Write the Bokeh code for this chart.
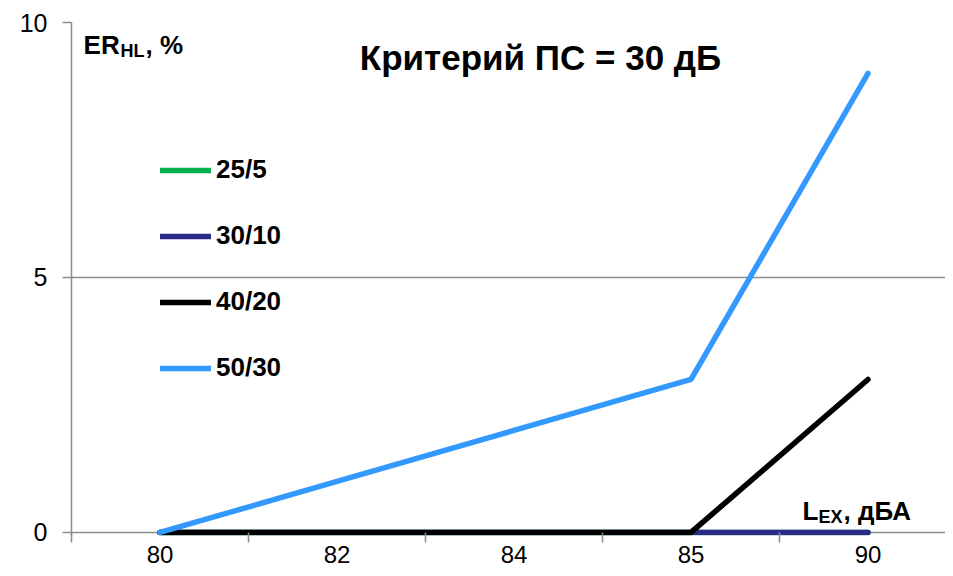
from bokeh.plotting import figure
from bokeh.models import FixedTicker, Legend, LegendItem, Range1d
from bokeh.core.properties import value
from bokeh.embed import file_html
from bokeh.resources import INLINE

# ---- data ----
categories = ["80", "82", "84", "85", "90"]
series_names = ["25/5", "30/10", "40/20", "50/30"]
s25_5 = [0, 0, 0, 0, 0]
s30_10 = [0, 0, 0, 0, 0]
s40_20 = [0, 0, 0, 0, 3]
s50_30 = [0, 1, 2, 3, 9]
y_ticks = [0, 5, 10]
series_colors = ["#00B050", "#2B2B88", "#000000", "#3399FF"]

title_text = "Критерий ПС = 30 дБ"
FONT = "Liberation Sans"
GRAY = "#8c8c8c"

xs = list(range(len(categories)))

p = figure(width=945, height=568, output_backend="svg", toolbar_location=None,
           title=None,
           x_range=Range1d(-0.5, 4.438), y_range=Range1d(-0.06, 10),
           min_border_left=71, min_border_right=0, min_border_top=22,
           min_border_bottom=33)
p.outline_line_color = None
p.background_fill_color = "white"
p.border_fill_color = "white"

# grid (the line at 0 doubles as the x axis line, drawn beneath the data lines)
p.xgrid.visible = False
p.ygrid.ticker = FixedTicker(ticks=y_ticks)
p.ygrid.grid_line_color = GRAY
p.ygrid.grid_line_width = 1.5

# x axis (category-like)
p.xaxis.ticker = FixedTicker(ticks=xs, minor_ticks=[i - 0.5 for i in range(len(xs) + 1)])
p.xaxis.major_label_overrides = {i: c for i, c in zip(xs, categories)}
p.xaxis.major_tick_out = 0
p.xaxis.major_tick_in = 0
p.xaxis.major_tick_line_color = None
p.xaxis.minor_tick_out = 7
p.xaxis.minor_tick_in = 3
p.xaxis.minor_tick_line_color = GRAY
p.xaxis.minor_tick_line_width = 1.5
p.xaxis.axis_line_color = None
p.xaxis.major_label_standoff = 3
p.xaxis.major_label_text_font = FONT
p.xaxis.major_label_text_font_size = "24px"
p.xaxis.major_label_text_color = "black"

# y axis
p.yaxis.ticker = FixedTicker(ticks=y_ticks)
p.yaxis.major_tick_out = 9
p.yaxis.major_tick_in = 0
p.yaxis.major_tick_line_color = GRAY
p.yaxis.major_tick_line_width = 1.5
p.yaxis.minor_tick_line_color = None
p.yaxis.axis_line_color = GRAY
p.yaxis.axis_line_width = 1.5
p.yaxis.major_label_standoff = 15
p.yaxis.major_label_text_font = FONT
p.yaxis.major_label_text_font_size = "25px"
p.yaxis.major_label_text_color = "black"

# lines
renderers = []
for name, ys, col in zip(series_names, [s25_5, s30_10, s40_20, s50_30], series_colors):
    r = p.line(xs, ys, line_color=col, line_width=5.5, line_cap="round", line_join="round")
    renderers.append(r)

legend = Legend(items=[LegendItem(label=n, renderers=[r]) for n, r in zip(series_names, renderers)],
                location=(89, 152), orientation="vertical",
                glyph_width=51, glyph_height=30, label_height=30, spacing=35,
                padding=0, margin=0, label_standoff=5,
                border_line_color=None, background_fill_alpha=0,
                label_text_font=FONT, label_text_font_style="bold",
                label_text_font_size="26px", label_text_color="black")
p.add_layout(legend)

# title inside plot
p.text(x=[2.15], y=[9.32], text=[title_text], text_font=value(FONT),
       text_font_style="bold", text_font_size="35px", text_align="center",
       text_baseline="alphabetic", text_color="black")

# rich labels with subscripts
def rich_label(x, y, parts):
    off = 0
    for txt, size, dy, w in parts:
        p.text(x=[x], y=[y], text=[txt], text_font=value(FONT), text_font_style="bold",
               text_font_size=f"{size}px", text_align="left", text_baseline="alphabetic",
               x_offset=off, y_offset=dy, text_color="black")
        off += w

rich_label(-0.432, 9.55, [("ER", 26, 0, 37), ("HL", 18, 6, 25), (", %", 26, 0, 0)])
rich_label(3.63, 0.42, [("L", 26, 0, 16), ("EX", 18, 6, 25), (", дБА", 26, 0, 0)])

open("out.html", "w").write(file_html(p, INLINE))
